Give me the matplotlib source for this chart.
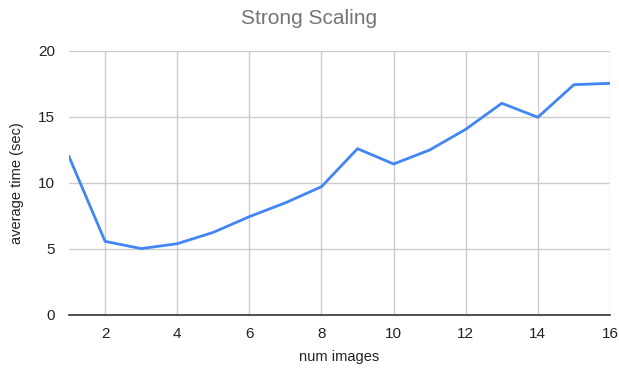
import matplotlib
matplotlib.use("Agg")
import matplotlib.pyplot as plt

num_images = list(range(1, 17))
avg_time = [12.0, 5.58, 5.03, 5.4, 6.26, 7.45, 8.5, 9.72,
            12.6, 11.44, 12.5, 14.07, 16.04, 14.98, 17.45, 17.55]
x_ticks = [2, 4, 6, 8, 10, 12, 14, 16]
y_ticks = [0, 5, 10, 15, 20]

plt.rcParams['font.family'] = ['Liberation Sans', 'DejaVu Sans']

W, H = 619, 372
fig = plt.figure(figsize=(W / 100, H / 100), dpi=100)
ax = fig.add_axes([69 / W, 1 - 315 / H, (610 - 69) / W, (315 - 51) / H])

ax.plot(num_images, avg_time, color='#4285f4', linewidth=2, solid_joinstyle='round')

ax.set_xlim(1, 16)
ax.set_ylim(0, 20)
ax.set_xticks(x_ticks)
ax.set_yticks(y_ticks)
ax.grid(True, color='#cccccc', linewidth=1)
ax.set_axisbelow(True)

for side in ('top', 'right', 'left'):
    ax.spines[side].set_visible(False)
ax.spines['bottom'].set_color('#333333')
ax.spines['bottom'].set_linewidth(1.2)
ax.spines['bottom'].set_zorder(3)

ax.tick_params(axis='both', length=0, labelsize=11, colors='#222222')
ax.tick_params(axis='x', pad=9)
ax.tick_params(axis='y', pad=10)

fig.text(339.5 / W, 1 - 357 / H, 'num images', fontsize=10.5, color='#222222',
         ha='center', va='center')
fig.text(17 / W, 1 - 183 / H, 'average time (sec)', fontsize=10.5, color='#222222',
         ha='center', va='center', rotation=90)
fig.text(0.5, 1 - 19 / H, 'Strong Scaling', fontsize=15, color='#757575',
         ha='center', va='center')

fig.savefig('out.png', dpi=100, facecolor='white')
